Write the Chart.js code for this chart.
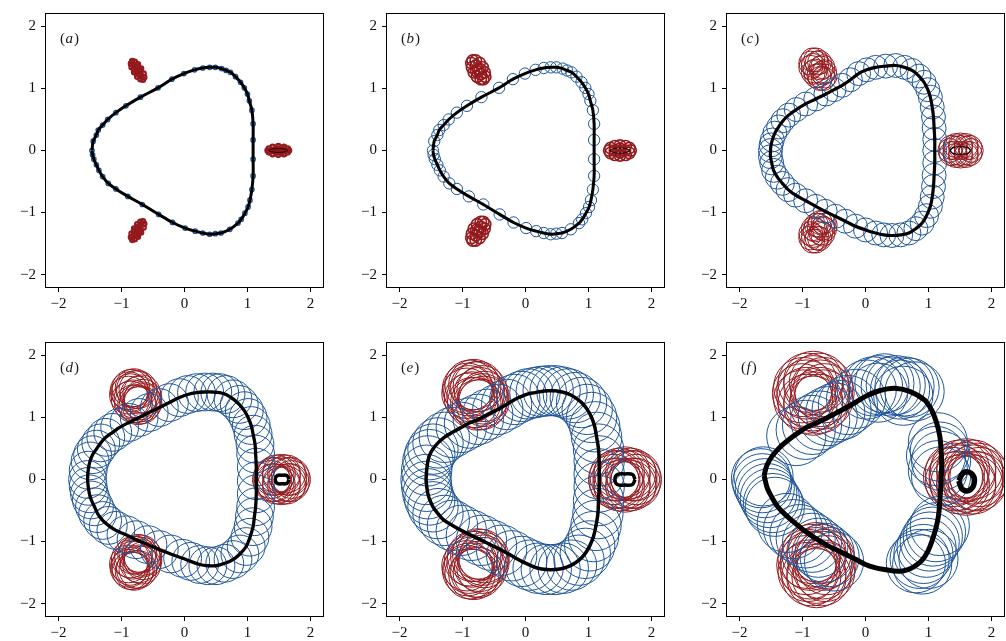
<!DOCTYPE html>
<html>
<head>
<meta charset="utf-8">
<script src="https://cdn.jsdelivr.net/npm/chart.js@4.4.1/dist/chart.umd.min.js"></script>
<style>
html, body { margin: 0; padding: 0; background: #fff; overflow: hidden; }
#fig { position: relative; width: 1006px; height: 641px; }
canvas { position: absolute; }
</style>
</head>
<body>
<div id="fig">
  <canvas id="pa" width="325" height="320" style="left:0px;top:0px"></canvas>
  <canvas id="pb" width="325" height="320" style="left:341px;top:0px"></canvas>
  <canvas id="pc" width="325" height="320" style="left:681px;top:0px"></canvas>
  <canvas id="pd" width="325" height="320" style="left:0px;top:329px"></canvas>
  <canvas id="pe" width="325" height="320" style="left:341px;top:329px"></canvas>
  <canvas id="pf" width="325" height="320" style="left:681px;top:329px"></canvas>
</div>
<script>
// ticks and panels
var tickValues = [-2, -1, 0, 1, 2]
var panelLabels = ['a', 'b', 'c', 'd', 'e', 'f']
var circleRadius = [0.035, 0.09, 0.19, 0.30, 0.40, 0.47]

// trajectory (black) - also the blue circle centres for a..e
var curveAB = [[-1.47,0.00],[-1.45,0.15],[-1.40,0.25],[-1.37,0.33],[-1.30,0.41],[-1.22,0.50],[-1.09,0.61],[-0.93,0.72],[-0.70,0.86],[-0.42,1.01],[-0.20,1.15],[-0.01,1.24],[0.16,1.30],[0.29,1.33],[0.40,1.34],[0.49,1.34],[0.59,1.32],[0.66,1.29],[0.73,1.26],[0.81,1.19],[0.89,1.10],[0.95,1.01],[1.00,0.91],[1.03,0.80],[1.07,0.65],[1.09,0.43],[1.09,0.17],[1.09,-0.14],[1.09,-0.41],[1.07,-0.63],[1.04,-0.80],[1.01,-0.91],[0.96,-1.01],[0.90,-1.11],[0.85,-1.17],[0.72,-1.27],[0.58,-1.33],[0.49,-1.34],[0.40,-1.35],[0.29,-1.33],[0.17,-1.30],[0.01,-1.25],[-0.19,-1.16],[-0.41,-1.03],[-0.67,-0.87],[-0.90,-0.74],[-1.09,-0.62],[-1.21,-0.53],[-1.30,-0.42],[-1.36,-0.32],[-1.40,-0.23],[-1.44,-0.14],[-1.46,-0.07]]

var curveC = [[-1.51,0.00],[-1.50,0.09],[-1.48,0.17],[-1.44,0.28],[-1.38,0.38],[-1.31,0.48],[-1.22,0.57],[-1.10,0.66],[-0.95,0.75],[-0.79,0.83],[-0.63,0.91],[-0.50,0.98],[-0.37,1.05],[-0.24,1.14],[-0.11,1.24],[0.02,1.30],[0.16,1.34],[0.32,1.36],[0.48,1.37],[0.62,1.34],[0.74,1.29],[0.85,1.20],[0.93,1.10],[0.99,0.98],[1.03,0.86],[1.06,0.70],[1.08,0.54],[1.09,0.36],[1.10,0.18],[1.10,0.00],[1.10,-0.20],[1.09,-0.40],[1.08,-0.58],[1.06,-0.75],[1.03,-0.90],[0.97,-1.05],[0.90,-1.17],[0.80,-1.26],[0.69,-1.33],[0.56,-1.36],[0.42,-1.37],[0.29,-1.36],[0.16,-1.33],[0.00,-1.28],[-0.16,-1.22],[-0.32,-1.14],[-0.48,-1.06],[-0.64,-0.98],[-0.79,-0.90],[-0.95,-0.81],[-1.11,-0.72],[-1.23,-0.63],[-1.32,-0.53],[-1.40,-0.43],[-1.46,-0.32],[-1.49,-0.20],[-1.51,-0.10]]

var curveD = [[-1.54,0.00],[-1.53,0.15],[-1.50,0.30],[-1.46,0.40],[-1.40,0.49],[-1.33,0.59],[-1.25,0.68],[-1.14,0.76],[-1.03,0.84],[-0.88,0.92],[-0.72,1.00],[-0.56,1.08],[-0.40,1.16],[-0.24,1.24],[-0.08,1.32],[0.05,1.37],[0.19,1.40],[0.32,1.41],[0.45,1.41],[0.56,1.40],[0.66,1.37],[0.77,1.30],[0.87,1.21],[0.95,1.11],[1.01,1.00],[1.06,0.87],[1.09,0.73],[1.12,0.57],[1.13,0.41],[1.14,0.20],[1.14,-0.02],[1.14,-0.23],[1.13,-0.44],[1.11,-0.60],[1.09,-0.76],[1.04,-0.93],[0.98,-1.08],[0.88,-1.20],[0.77,-1.29],[0.64,-1.35],[0.50,-1.39],[0.37,-1.39],[0.24,-1.37],[0.10,-1.32],[-0.03,-1.27],[-0.22,-1.20],[-0.40,-1.13],[-0.58,-1.05],[-0.77,-0.97],[-0.93,-0.89],[-1.09,-0.82],[-1.21,-0.74],[-1.30,-0.66],[-1.38,-0.55],[-1.43,-0.44],[-1.48,-0.33],[-1.51,-0.23],[-1.53,-0.11]]

var curveE = [[-1.58,0.00],[-1.57,0.15],[-1.55,0.30],[-1.52,0.40],[-1.47,0.49],[-1.39,0.59],[-1.29,0.68],[-1.16,0.76],[-1.02,0.84],[-0.89,0.91],[-0.75,0.97],[-0.60,1.05],[-0.44,1.13],[-0.30,1.21],[-0.17,1.29],[-0.06,1.34],[0.04,1.38],[0.15,1.40],[0.25,1.42],[0.36,1.43],[0.47,1.43],[0.58,1.41],[0.68,1.38],[0.79,1.32],[0.89,1.24],[0.98,1.13],[1.05,1.00],[1.10,0.85],[1.13,0.68],[1.16,0.49],[1.17,0.30],[1.17,0.09],[1.17,-0.12],[1.16,-0.34],[1.15,-0.55],[1.12,-0.74],[1.08,-0.92],[1.02,-1.07],[0.95,-1.19],[0.85,-1.30],[0.73,-1.38],[0.60,-1.43],[0.47,-1.45],[0.33,-1.45],[0.20,-1.43],[0.07,-1.38],[-0.06,-1.32],[-0.22,-1.23],[-0.38,-1.14],[-0.54,-1.06],[-0.70,-0.98],[-0.86,-0.90],[-1.02,-0.82],[-1.16,-0.74],[-1.29,-0.66],[-1.39,-0.55],[-1.47,-0.44],[-1.52,-0.33],[-1.55,-0.23],[-1.57,-0.11]]

var curveF = [[-1.61,0.06],[-1.57,0.22],[-1.48,0.38],[-1.36,0.52],[-1.21,0.65],[-1.06,0.76],[-0.90,0.86],[-0.70,0.95],[-0.47,1.07],[-0.23,1.20],[0.00,1.34],[0.22,1.43],[0.46,1.47],[0.70,1.42],[0.94,1.28],[1.05,1.12],[1.13,0.91],[1.18,0.70],[1.20,0.49],[1.21,0.22],[1.20,-0.04],[1.18,-0.36],[1.16,-0.58],[1.12,-0.78],[1.06,-0.98],[0.99,-1.16],[0.90,-1.30],[0.78,-1.40],[0.65,-1.46],[0.52,-1.48],[0.30,-1.45],[0.15,-1.42],[0.00,-1.37],[-0.15,-1.29],[-0.31,-1.21],[-0.47,-1.13],[-0.63,-1.05],[-0.79,-0.95],[-0.95,-0.84],[-1.11,-0.71],[-1.27,-0.57],[-1.40,-0.43],[-1.48,-0.30],[-1.56,-0.14]]

// blue circle centres in (f), off the trajectory
var blueF = [[0.02,1.45],[0.12,1.50],[0.22,1.52],[0.30,1.55],[0.40,1.50],[0.48,1.52],[0.55,1.45],[0.62,1.50],[0.70,1.48],[0.78,1.42],[0.20,1.40],[0.60,1.35],
  [-1.10,0.70],[-0.95,0.80],[-0.85,0.88],[-0.72,0.95],[-0.60,1.02],[-0.48,1.08],[-0.38,1.12],[-0.28,1.20],[-0.15,1.30],
  [-1.62,0.05],[-1.66,0.02],[-1.64,-0.06],[-1.60,-0.14],[-1.56,-0.22],[-1.52,-0.30],[-1.47,-0.38],[-1.44,-0.44],
  [-1.25,-0.70],[-1.15,-0.80],[-1.05,-0.88],[-0.95,-0.95],[-0.85,-1.02],[-0.75,-1.10],[-0.65,-1.18],[-0.57,-1.25],[-0.50,-1.32],
  [0.80,-1.35],[0.86,-1.28],[0.92,-1.20],[0.97,-1.10],[1.02,-1.00],[1.07,-0.92],[1.12,-0.85],[1.18,-0.75],[0.90,-1.37],[1.00,-1.28],
  [1.15,0.60],[1.18,0.45],[1.20,0.30],[1.15,0.15],[1.20,0.05],[1.12,0.38]]

// red circle centres (right, top, bottom satellites)
var redA = [[1.66,0.00],[1.64,0.03],[1.58,0.06],[1.49,0.07],[1.40,0.06],[1.34,0.03],[1.32,0.00],[1.34,-0.03],[1.40,-0.06],[1.49,-0.07],[1.58,-0.06],[1.64,-0.03],
  [1.40,0.00],[1.49,0.03],[1.58,0.00],[1.49,-0.03],[1.49,0.00],[1.55,0.03],[1.55,-0.03],[1.43,0.02],[1.43,-0.02],
  [-0.83,1.44],[-0.85,1.40],[-0.84,1.34],[-0.80,1.26],[-0.75,1.19],[-0.70,1.15],[-0.66,1.14],[-0.64,1.18],[-0.65,1.24],[-0.69,1.32],[-0.74,1.39],[-0.79,1.43],
  [-0.70,1.21],[-0.77,1.28],[-0.79,1.37],[-0.72,1.31],[-0.75,1.29],[-0.80,1.33],[-0.75,1.36],[-0.73,1.23],[-0.70,1.25],
  [-0.83,-1.44],[-0.85,-1.40],[-0.84,-1.34],[-0.80,-1.26],[-0.75,-1.19],[-0.70,-1.15],[-0.66,-1.14],[-0.64,-1.18],[-0.65,-1.24],[-0.69,-1.32],[-0.74,-1.39],[-0.79,-1.43],
  [-0.70,-1.21],[-0.77,-1.28],[-0.79,-1.37],[-0.72,-1.31],[-0.75,-1.29],[-0.80,-1.33],[-0.75,-1.36],[-0.73,-1.23],[-0.70,-1.25]]

var redB = [[1.67,0.00],[1.65,0.04],[1.59,0.07],[1.50,0.08],[1.42,0.07],[1.35,0.04],[1.33,0.00],[1.35,-0.04],[1.42,-0.07],[1.50,-0.08],[1.59,-0.07],[1.65,-0.04],
  [1.42,0.00],[1.50,0.03],[1.58,0.00],[1.50,-0.03],[1.50,0.00],
  [-0.84,1.45],[-0.86,1.41],[-0.85,1.34],[-0.82,1.26],[-0.77,1.19],[-0.71,1.15],[-0.67,1.15],[-0.64,1.19],[-0.65,1.26],[-0.68,1.34],[-0.73,1.41],[-0.79,1.45],
  [-0.71,1.23],[-0.78,1.28],[-0.79,1.37],[-0.72,1.31],[-0.75,1.30],
  [-0.84,-1.45],[-0.86,-1.41],[-0.85,-1.34],[-0.82,-1.26],[-0.77,-1.19],[-0.71,-1.15],[-0.67,-1.15],[-0.64,-1.19],[-0.65,-1.26],[-0.68,-1.34],[-0.73,-1.41],[-0.79,-1.45],
  [-0.71,-1.23],[-0.78,-1.28],[-0.79,-1.37],[-0.72,-1.31],[-0.75,-1.30]]

var redC = [[1.68,0.00],[1.66,0.05],[1.60,0.08],[1.51,0.09],[1.43,0.08],[1.36,0.05],[1.34,0.00],[1.36,-0.05],[1.43,-0.08],[1.51,-0.09],[1.60,-0.08],[1.66,-0.05],
  [1.60,0.04],[1.51,0.05],[1.42,0.04],[1.42,-0.04],[1.51,-0.05],[1.60,-0.04],
  [-0.84,1.46],[-0.87,1.41],[-0.87,1.34],[-0.83,1.26],[-0.78,1.20],[-0.72,1.16],[-0.67,1.16],[-0.64,1.20],[-0.65,1.27],[-0.68,1.35],[-0.73,1.42],[-0.79,1.46],
  [-0.83,1.37],[-0.80,1.28],[-0.74,1.21],[-0.68,1.25],[-0.71,1.33],[-0.77,1.41],
  [-0.84,-1.46],[-0.87,-1.41],[-0.87,-1.34],[-0.83,-1.26],[-0.78,-1.20],[-0.72,-1.16],[-0.67,-1.16],[-0.64,-1.20],[-0.65,-1.27],[-0.68,-1.35],[-0.73,-1.42],[-0.79,-1.46],
  [-0.83,-1.37],[-0.80,-1.28],[-0.74,-1.21],[-0.68,-1.25],[-0.71,-1.33],[-0.77,-1.41]]

var redD = [[1.70,0.00],[1.68,0.05],[1.62,0.09],[1.54,0.10],[1.46,0.09],[1.40,0.05],[1.38,0.00],[1.40,-0.05],[1.46,-0.09],[1.54,-0.10],[1.62,-0.09],[1.68,-0.05],
  [1.64,0.05],[1.54,0.06],[1.44,0.05],[1.44,-0.05],[1.54,-0.06],[1.64,-0.05],
  [-0.85,1.47],[-0.88,1.43],[-0.89,1.36],[-0.86,1.28],[-0.81,1.22],[-0.74,1.19],[-0.69,1.20],[-0.66,1.24],[-0.66,1.31],[-0.68,1.38],[-0.74,1.45],[-0.80,1.48],
  [-0.86,1.40],[-0.82,1.30],[-0.76,1.22],[-0.68,1.27],[-0.72,1.36],[-0.78,1.45],
  [-0.85,-1.47],[-0.88,-1.43],[-0.89,-1.36],[-0.86,-1.28],[-0.81,-1.22],[-0.74,-1.19],[-0.69,-1.20],[-0.66,-1.24],[-0.66,-1.31],[-0.68,-1.38],[-0.74,-1.45],[-0.80,-1.48],
  [-0.86,-1.40],[-0.82,-1.30],[-0.76,-1.22],[-0.68,-1.27],[-0.72,-1.36],[-0.78,-1.45]]

var redE = [[1.76,0.00],[1.74,0.06],[1.67,0.10],[1.58,0.12],[1.49,0.10],[1.42,0.06],[1.40,0.00],[1.42,-0.06],[1.49,-0.10],[1.58,-0.12],[1.67,-0.10],[1.74,-0.06],
  [1.69,0.06],[1.58,0.07],[1.47,0.06],[1.47,-0.06],[1.58,-0.07],[1.69,-0.06],
  [-0.88,1.52],[-0.92,1.47],[-0.93,1.39],[-0.89,1.31],[-0.84,1.24],[-0.76,1.20],[-0.70,1.21],[-0.66,1.26],[-0.66,1.34],[-0.69,1.43],[-0.75,1.50],[-0.82,1.53],
  [-0.90,1.43],[-0.85,1.33],[-0.79,1.24],[-0.68,1.30],[-0.73,1.40],[-0.79,1.49],
  [-0.88,-1.52],[-0.92,-1.47],[-0.93,-1.39],[-0.89,-1.31],[-0.84,-1.24],[-0.76,-1.20],[-0.70,-1.21],[-0.66,-1.26],[-0.66,-1.34],[-0.69,-1.43],[-0.75,-1.50],[-0.82,-1.53],
  [-0.90,-1.43],[-0.85,-1.33],[-0.79,-1.24],[-0.68,-1.30],[-0.73,-1.40],[-0.79,-1.49]]

var redF = [[1.81,0.04],[1.78,0.11],[1.71,0.16],[1.60,0.18],[1.50,0.16],[1.42,0.11],[1.39,0.04],[1.42,-0.03],[1.50,-0.08],[1.60,-0.10],[1.71,-0.08],[1.78,-0.03],
  [1.72,0.08],[1.60,0.12],[1.48,0.08],[1.48,-0.02],[1.60,-0.05],[1.72,-0.02],
  [-0.65,1.39],[-0.67,1.49],[-0.74,1.56],[-0.83,1.59],[-0.92,1.56],[-0.99,1.49],[-1.01,1.39],[-0.99,1.29],[-0.92,1.22],[-0.83,1.19],[-0.74,1.22],[-0.67,1.29],
  [-0.72,1.45],[-0.83,1.52],[-0.94,1.45],[-0.94,1.33],[-0.83,1.26],[-0.72,1.33],
  [-0.62,-1.38],[-0.64,-1.28],[-0.70,-1.20],[-0.78,-1.17],[-0.86,-1.20],[-0.92,-1.28],[-0.94,-1.38],[-0.92,-1.49],[-0.86,-1.56],[-0.78,-1.59],[-0.70,-1.56],[-0.64,-1.49],
  [-0.68,-1.31],[-0.78,-1.25],[-0.88,-1.31],[-0.88,-1.45],[-0.78,-1.52],[-0.68,-1.45]]

// small black loop at the right satellite
var loopA = [[1.64,0.00],[1.60,0.02],[1.49,0.03],[1.38,0.02],[1.34,0.00],[1.38,-0.02],[1.49,-0.03],[1.60,-0.02]]
var loopB = [[1.66,0.00],[1.61,0.03],[1.50,0.04],[1.39,0.03],[1.34,0.00],[1.39,-0.03],[1.50,-0.04],[1.61,-0.03]]
var loopC = [[1.67,0.00],[1.62,0.05],[1.51,0.06],[1.40,0.05],[1.35,0.00],[1.40,-0.05],[1.51,-0.06],[1.62,-0.05]]
var loopD = [[1.66,0.00],[1.63,0.06],[1.55,0.07],[1.47,0.06],[1.44,0.00],[1.47,-0.06],[1.55,-0.07],[1.63,-0.06]]
var loopE = [[1.74,0.00],[1.70,0.08],[1.58,0.09],[1.46,0.08],[1.42,0.00],[1.46,-0.08],[1.58,-0.09],[1.70,-0.08]]
var loopF = [[1.48,-0.02],[1.56,0.11],[1.68,0.10],[1.73,-0.03],[1.66,-0.17],[1.54,-0.16]]

var curves = [curveAB, curveAB, curveC, curveD, curveE, curveF]
var blueCentres = [curveAB, curveAB, curveC, curveD, curveE, blueF]
var redCentres = [redA, redB, redC, redD, redE, redF]
var loops = [loopA, loopB, loopC, loopD, loopE, loopF]

// styles
var curveWidth = [3, 3, 3.2, 3.3, 3.5, 5]
var loopWidth = [0.8, 0.8, 1.2, 3.5, 3.5, 5.5]
var blueWidth = [1.3, 1, 1, 1, 1, 1]
var redWidth = [2.2, 1.6, 1, 1, 1, 1]
var blue = '#1f5699'
var red = '#941a1e'
var serif = '"Liberation Serif", "DejaVu Serif", serif'

function tickText(v){
  return v < 0 ? '\u2212' + Math.abs(v) : String(v)
}

// radius given in data units -> pixels via the x scale
function dataRadius(chart, r){
  var s = chart.scales.x
  if (!s || !s.width) return 0
  return Math.abs(s.getPixelForValue(r) - s.getPixelForValue(0))
}

function closed(pts){
  return pts.concat([pts[0]])
}

var framePlugin = {
  id: 'frame',
  afterDatasetsDraw: function(chart, args, opts){
    var a = chart.chartArea
    var ctx = chart.ctx
    ctx.save()
    ctx.strokeStyle = '#000'
    ctx.lineWidth = 1
    ctx.strokeRect(Math.round(a.left) - 0.5, Math.round(a.top) - 0.5, Math.round(a.right - a.left) + 1, Math.round(a.bottom - a.top) + 1)
    // panel label (x)
    ctx.fillStyle = '#1a1a1a'
    ctx.textBaseline = 'alphabetic'
    var x = a.left + 14
    var y = a.top + 28.5
    ctx.font = '15px ' + serif
    ctx.fillText('(', x, y)
    x += ctx.measureText('(').width + 0.5
    ctx.font = 'italic 15px ' + serif
    ctx.fillText(opts.text, x, y)
    x += ctx.measureText(opts.text).width + 1
    ctx.font = '15px ' + serif
    ctx.fillText(')', x, y)
    ctx.restore()
  }
}

function axis(pos){
  return {
    type: 'linear',
    position: pos,
    min: -2.2,
    max: 2.2,
    afterBuildTicks: function(s){ s.ticks = tickValues.map(function(v){ return { value: v } }) },
    afterFit: function(s){ if (pos == 'left') s.width = 46; else s.height = 33 },
    grid: { drawOnChartArea: false, drawTicks: true, tickLength: 5, color: '#000', lineWidth: 1 },
    border: { display: false },
    ticks: {
      autoSkip: false,
      maxRotation: 0,
      padding: pos == 'left' ? 5 : 3,
      color: '#111',
      font: { family: serif, size: 15 },
      callback: function(v){ return tickText(v) }
    }
  }
}

panelLabels.forEach(function(lab, i){
  var R = circleRadius[i]
  new Chart(document.getElementById('p' + lab), {
    type: 'scatter',
    data: {
      datasets: [
        {
          // trajectory
          data: closed(curves[i]),
          showLine: true,
          tension: 0.35,
          borderColor: '#000',
          borderWidth: curveWidth[i],
          pointRadius: 0,
          clip: 0,
          order: 0
        },
        {
          // satellite loop
          data: closed(loops[i]),
          showLine: true,
          tension: 0.4,
          borderColor: '#000',
          borderWidth: loopWidth[i],
          pointRadius: 0,
          clip: 0,
          order: 0
        },
        {
          data: blueCentres[i],
          showLine: false,
          pointRadius: function(ctx){ return dataRadius(ctx.chart, R) },
          pointBackgroundColor: 'rgba(0,0,0,0)',
          pointBorderColor: blue,
          pointBorderWidth: blueWidth[i],
          clip: 0,
          order: 1
        },
        {
          data: redCentres[i],
          showLine: false,
          pointRadius: function(ctx){ return dataRadius(ctx.chart, R) },
          pointBackgroundColor: 'rgba(0,0,0,0)',
          pointBorderColor: red,
          pointBorderWidth: redWidth[i],
          clip: 0,
          order: 2
        }
      ]
    },
    options: {
      responsive: false,
      animation: false,
      events: [],
      layout: { padding: { top: 13, right: 2, left: 0, bottom: 0 } },
      plugins: {
        legend: { display: false },
        tooltip: { enabled: false },
        frame: { text: lab }
      },
      scales: {
        x: axis('bottom'),
        y: axis('left')
      }
    },
    plugins: [framePlugin]
  })
})
</script>
</body>
</html>
